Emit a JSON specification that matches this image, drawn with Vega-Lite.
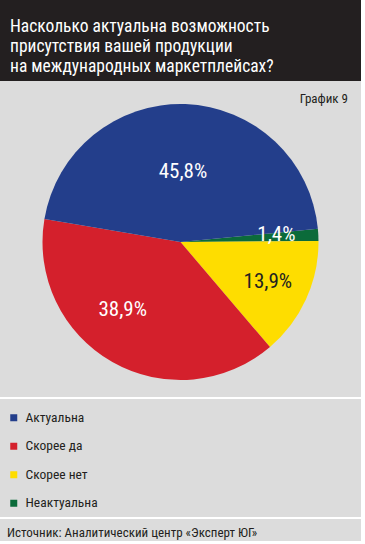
{
  "$schema": "https://vega.github.io/schema/vega-lite/v6.json",
  "padding": 0,
  "background": "white",
  "config": {
    "view": {"stroke": null},
    "font": "Roboto Condensed, DejaVu Sans Condensed, Liberation Sans Narrow, Roboto",
    "title": {"fontWeight": "normal", "font": "Roboto Condensed, DejaVu Sans Condensed, Liberation Sans Narrow, Roboto"}
  },
  "datasets": {
    "shares": [
      {"cat": "Неактуальна", "value": 1.4, "label": "1,4%", "ord": 1},
      {"cat": "Скорее нет", "value": 13.9, "label": "13,9%", "ord": 2},
      {"cat": "Скорее да", "value": 38.9, "label": "38,9%", "ord": 3},
      {"cat": "Актуальна", "value": 45.8, "label": "45,8%", "ord": 4}
    ]
  },
  "spacing": 2,
  "resolve": {"legend": {"color": "independent"}},
  "vconcat": [
    {
      "spacing": 0,
      "vconcat": [
        {
          "width": 361,
          "height": 81,
          "view": {"fill": "#231f20", "stroke": null},
          "data": {"values": [{"panel": "header"}]},
          "mark": {"type": "rect", "color": "#231f20"},
          "title": {
            "text": ["Насколько актуальна возможность", "присутствия вашей продукции", "на международных маркетплейсах?"],
            "anchor": "start",
            "frame": "group",
            "orient": "top",
            "baseline": "alphabetic",
            "offset": -90,
            "dx": 10,
            "fontSize": 17.5,
            "lineHeight": 20.3,
            "color": "white"
          }
        },
        {
          "width": 361,
          "height": 316,
          "view": {"fill": "#dcdcdc", "stroke": null},
          "data": {"name": "shares"},
          "title": {
            "text": "График 9",
            "anchor": "end",
            "frame": "group",
            "orient": "top",
            "baseline": "alphabetic",
            "offset": -34.5,
            "dx": -13,
            "fontSize": 13,
            "color": "#231f20"
          },
          "encoding": {
            "theta": {"field": "value", "type": "quantitative", "stack": true, "scale": {"range": [1.4748, 7.758]}},
            "order": {"field": "ord", "type": "quantitative"}
          },
          "layer": [
            {
              "mark": {"type": "arc", "outerRadius": 138, "yOffset": 3},
              "encoding": {
                "color": {
                  "field": "cat",
                  "type": "nominal",
                  "scale": {"domain": ["Актуальна", "Скорее да", "Скорее нет", "Неактуальна"], "range": ["#233e8b", "#d4202c", "#fedd00", "#0b6b3a"]},
                  "legend": null
                }
              }
            },
            {
              "mark": {"type": "text", "radius": 70, "fontSize": 21, "color": "white", "yOffset": 3},
              "encoding": {"text": {"condition": {"test": "datum.cat === 'Актуальна'", "field": "label", "type": "nominal"}, "value": ""}}
            },
            {
              "mark": {"type": "text", "radius": 89, "thetaOffset": 0.19, "fontSize": 21, "color": "white", "yOffset": 3},
              "encoding": {"text": {"condition": {"test": "datum.cat === 'Скорее да'", "field": "label", "type": "nominal"}, "value": ""}}
            },
            {
              "mark": {"type": "text", "radius": 96, "fontSize": 21, "color": "#231f20", "yOffset": 3},
              "encoding": {"text": {"condition": {"test": "datum.cat === 'Скорее нет'", "field": "label", "type": "nominal"}, "value": ""}}
            },
            {
              "mark": {"type": "text", "radius": 96, "fontSize": 21, "color": "white", "yOffset": 1},
              "encoding": {"text": {"condition": {"test": "datum.cat === 'Неактуальна'", "field": "label", "type": "nominal"}, "value": ""}}
            }
          ]
        }
      ]
    },
    {
      "width": 361,
      "height": 118,
      "view": {"fill": "#dcdcdc", "stroke": null},
      "data": {"name": "shares"},
      "mark": {"type": "square", "opacity": 0},
      "encoding": {
        "color": {
          "field": "cat",
          "type": "nominal",
          "scale": {"domain": ["Актуальна", "Скорее да", "Скорее нет", "Неактуальна"], "range": ["#233e8b", "#d4202c", "#fedd00", "#0b6b3a"]},
          "legend": {
            "orient": "top-left",
            "offset": 7,
            "padding": 0,
            "title": " ",
            "titleFontSize": 1,
            "titlePadding": 4,
            "symbolType": "square",
            "symbolSize": 49,
            "symbolOpacity": 1,
            "symbolStrokeWidth": 0,
            "labelFontSize": 13.5,
            "labelFont": "Roboto Condensed, DejaVu Sans Condensed, Liberation Sans Narrow, Roboto",
            "labelColor": "#231f20",
            "labelOffset": 5,
            "rowPadding": 13.5
          }
        }
      }
    },
    {
      "width": 361,
      "height": 22,
      "view": {"fill": "#dcdcdc", "stroke": null},
      "data": {"values": [{"panel": "source"}]},
      "mark": {"type": "rect", "color": "#dcdcdc"},
      "title": {
        "text": "Источник: Аналитический центр «Эксперт ЮГ»",
        "anchor": "start",
        "frame": "group",
        "orient": "top",
        "baseline": "alphabetic",
        "offset": -30.5,
        "dx": 7,
        "fontSize": 13,
        "color": "#231f20"
      }
    }
  ]
}
